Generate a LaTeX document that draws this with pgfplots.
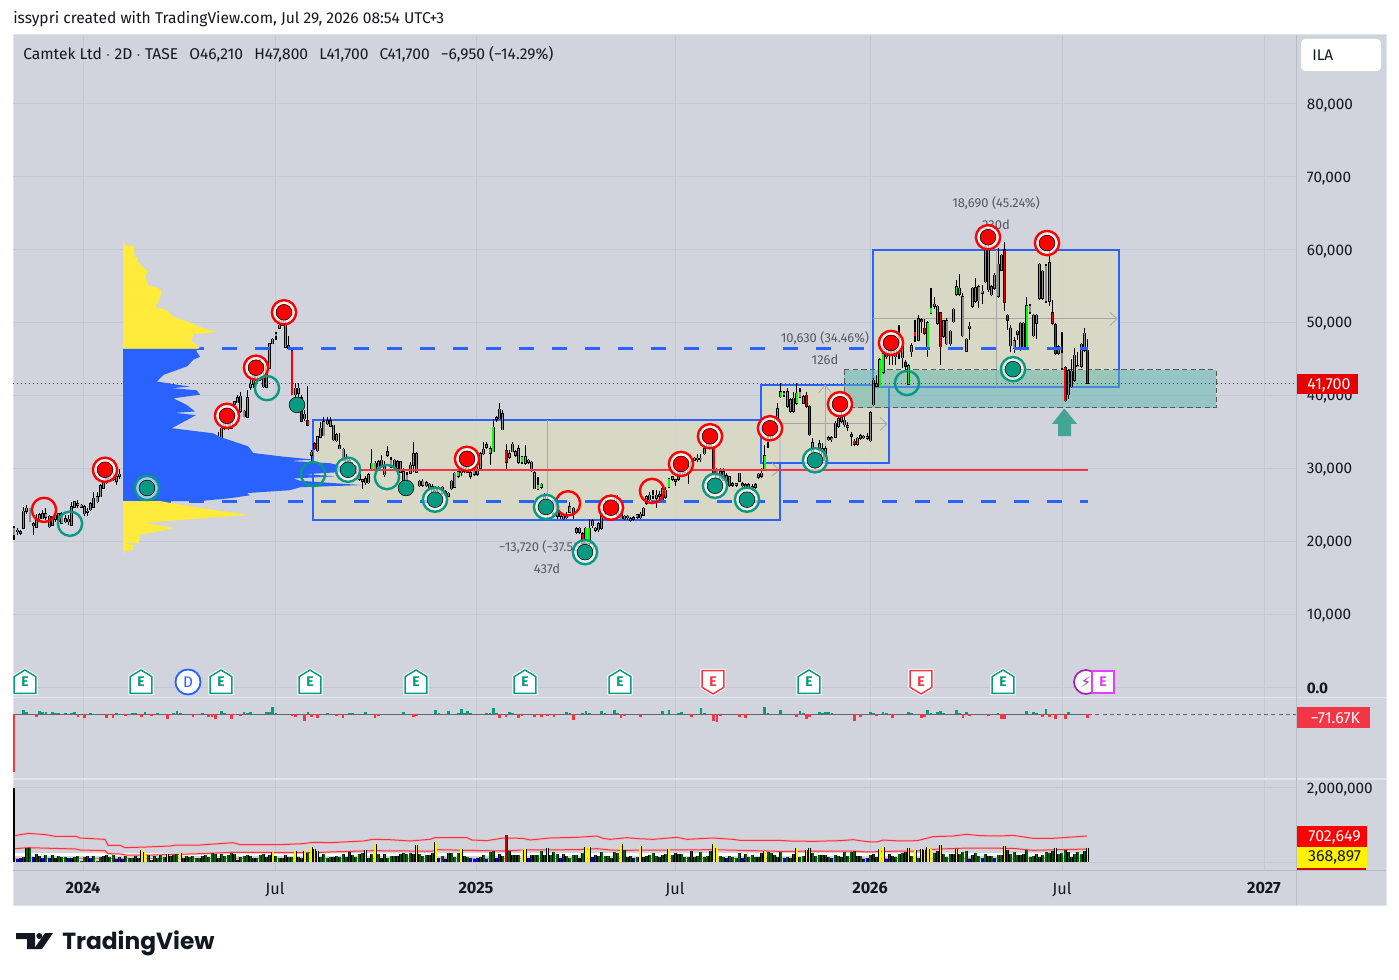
\documentclass[border=0pt]{standalone}
\usepackage{fontspec}
\usepackage{pgfplots}
\usepackage{pgfplotstable}
\pgfplotsset{compat=1.18}
\setmainfont{Fira Sans}
\newfontfamily\logofont{Poppins}
\newfontfamily\dejavu{DejaVu Sans}
\definecolor{panebg}{RGB}{209,212,220}
\definecolor{gridc}{RGB}{197,201,210}
\definecolor{sepc}{RGB}{226,228,235}
\definecolor{scalec}{RGB}{184,188,198}
\definecolor{tvblue}{RGB}{41,98,255}
\definecolor{tvred}{RGB}{242,54,69}
\definecolor{tvgreen}{RGB}{8,153,129}
\definecolor{txt}{RGB}{19,23,34}
\definecolor{anno}{RGB}{85,88,98}
\definecolor{beige}{RGB}{217,217,195}
\definecolor{zonec}{RGB}{95,182,174}
\definecolor{profy}{RGB}{255,235,59}
\definecolor{magE}{RGB}{224,64,251}
\definecolor{purp}{RGB}{156,39,176}
\definecolor{arrowc}{RGB}{67,165,150}
\pgfdeclareplotmark{tvhouse}{\pgfsetcornersarced{\pgfqpoint{1.2pt}{1.2pt}}%
 \pgfpathmoveto{\pgfqpoint{-8.2pt}{-8.6pt}}\pgfpathlineto{\pgfqpoint{8.2pt}{-8.6pt}}\pgfpathlineto{\pgfqpoint{8.2pt}{4pt}}\pgfpathlineto{\pgfqpoint{0pt}{9pt}}\pgfpathlineto{\pgfqpoint{-8.2pt}{4pt}}\pgfpathclose\pgfusepathqfillstroke}
\pgfdeclareplotmark{tvshield}{\pgfsetcornersarced{\pgfqpoint{1.2pt}{1.2pt}}%
 \pgfpathmoveto{\pgfqpoint{-8.2pt}{8.6pt}}\pgfpathlineto{\pgfqpoint{8.2pt}{8.6pt}}\pgfpathlineto{\pgfqpoint{8.2pt}{-4pt}}\pgfpathlineto{\pgfqpoint{0pt}{-9pt}}\pgfpathlineto{\pgfqpoint{-8.2pt}{-4pt}}\pgfpathclose\pgfusepathqfillstroke}
\pgfdeclareplotmark{tvbox}{\pgfsetcornersarced{\pgfqpoint{1.5pt}{1.5pt}}%
 \pgfpathmoveto{\pgfqpoint{-8.2pt}{-8.2pt}}\pgfpathlineto{\pgfqpoint{8.2pt}{-8.2pt}}\pgfpathlineto{\pgfqpoint{8.2pt}{8.2pt}}\pgfpathlineto{\pgfqpoint{-8.2pt}{8.2pt}}\pgfpathclose\pgfusepathqfillstroke}
% i top-of-body bottom-of-body high low kind(0 grey,1 green,2 red), prices in thousands
\pgfplotstableread[row sep=crcr]{
i t b h l k\\
0 21.8 20.9 22.1 20.2 0\\ 1 21.5 21.3 21.8 20.9 0\\ 2 21.3 21.1 21.6 20.9 0\\ 3 24.1 21.8 24.7 21.8 0\\ 4 24.5 24.1 25.0 23.8 0\\
5 24.5 22.7 24.5 22.6 0\\ 6 22.4 22.1 22.7 20.9 0\\ 7 22.9 21.9 23.8 21.9 0\\ 8 23.6 23.1 23.9 22.9 0\\ 9 23.8 23.1 24.3 23.0 0\\
10 23.8 23.3 24.5 22.9 0\\ 11 23.4 22.0 23.6 21.8 0\\ 12 23.4 22.2 23.4 22.1 0\\ 13 23.5 23.0 23.8 22.7 0\\ 14 23.8 22.7 23.9 22.5 0\\
15 23.8 22.5 24.0 22.3 0\\ 16 23.1 22.7 23.6 22.5 0\\ 17 23.0 22.7 23.6 22.2 0\\ 18 24.7 22.2 25.4 22.1 0\\ 19 25.4 24.7 25.5 24.5 0\\
20 25.1 24.9 25.7 24.6 0\\ 21 24.9 24.7 25.1 24.5 0\\ 22 24.7 23.8 25.0 23.4 0\\ 23 24.1 24.0 24.5 23.4 0\\ 24 25.1 24.3 25.4 24.2 0\\
25 25.9 24.7 26.8 24.6 0\\ 26 26.1 25.4 26.8 25.3 0\\ 27 27.6 26.1 27.9 26.1 0\\ 28 28.0 27.3 28.3 27.2 0\\ 29 28.6 28.0 29.0 27.8 0\\
30 28.8 28.4 29.2 28.2 0\\ 31 28.9 28.5 29.3 28.2 0\\ 32 28.8 28.2 29.0 27.7 0\\ 33 29.2 28.9 29.9 28.6 0\\
64 34.2 33.4 35.0 33.3 1\\ 65 35.5 33.4 36.0 33.3 0\\ 66 36.2 35.5 37.0 35.2 0\\ 67 36.0 35.5 37.0 35.2 1\\ 68 36.5 35.5 38.0 35.4 0\\
69 39.1 38.8 39.3 38.6 0\\ 70 39.7 39.0 40.0 38.9 0\\ 71 39.9 37.8 40.5 37.6 0\\ 72 37.8 37.1 38.0 37.0 0\\ 73 39.7 37.0 40.8 36.9 0\\
74 41.5 41.1 42.6 40.7 0\\ 75 43.0 41.5 44.0 41.0 0\\ 76 43.5 42.0 44.5 41.5 0\\ 77 44.0 42.5 45.0 42.0 0\\ 78 42.6 41.2 44.5 41.0 0\\
79 44.0 41.1 44.4 41.0 0\\ 80 47.1 43.7 47.2 43.6 1\\ 81 47.7 47.1 47.9 47.0 0\\ 82 48.4 48.2 48.7 47.6 0\\ 83 49.6 49.2 50.3 49.1 0\\
84 50.3 49.6 51.5 49.5 0\\ 85 49.9 46.6 50.5 46.5 0\\ 86 46.8 46.5 48.1 46.5 0\\ 87 46.1 40.1 46.3 40.0 2\\ 88 41.0 40.1 41.7 39.8 0\\
89 41.0 40.3 41.7 39.8 0\\ 90 39.7 36.5 40.0 36.4 2\\ 91 37.4 36.8 38.0 36.5 0\\ 92 36.5 35.9 41.3 35.8 2\\ 93 32.2 31.8 32.5 30.5 0\\
94 33.4 32.7 33.6 32.5 2\\ 95 34.3 32.4 34.5 32.2 0\\ 96 35.5 34.3 36.4 34.2 0\\ 97 36.4 34.5 37.0 34.4 0\\ 98 36.5 36.1 37.0 35.9 0\\
99 36.5 35.8 37.0 35.6 0\\ 100 35.9 33.9 36.0 33.8 0\\ 101 34.6 33.8 34.8 33.6 0\\ 102 33.1 32.7 34.8 32.6 0\\ 103 32.6 31.1 32.8 31.0 0\\
104 31.5 30.5 32.0 30.3 0\\ 105 31.0 30.3 31.3 30.0 0\\ 106 30.4 29.8 30.8 29.5 0\\ 107 30.2 29.3 30.5 29.2 0\\ 108 29.2 28.5 29.4 28.3 0\\
109 28.4 28.2 28.6 27.2 0\\ 110 28.6 28.0 29.0 27.7 0\\ 111 29.1 28.0 29.3 27.9 0\\ 112 30.7 29.8 32.6 29.6 1\\ 113 30.7 29.8 31.0 29.6 0\\
114 30.9 30.2 31.2 30.0 0\\ 115 31.1 30.3 31.8 30.1 0\\ 116 30.2 29.1 31.0 28.8 0\\ 117 32.3 31.8 33.0 31.6 0\\ 118 31.1 30.2 31.5 30.0 0\\
119 31.1 30.2 31.3 30.0 0\\ 120 30.9 30.0 31.2 29.8 0\\ 121 30.9 29.5 31.0 29.3 0\\ 122 29.5 28.4 30.0 28.2 0\\ 123 29.1 28.4 29.5 28.2 0\\
124 30.4 29.3 30.8 29.2 0\\ 125 32.0 30.4 33.6 29.5 1\\ 126 32.0 29.5 32.3 29.4 0\\ 127 28.2 27.6 28.4 27.4 0\\ 128 28.2 27.7 28.5 27.5 0\\
129 28.0 27.6 28.3 27.4 0\\ 130 27.8 27.2 28.0 27.0 0\\ 131 27.5 26.8 27.8 26.6 0\\ 132 27.4 26.9 27.6 26.5 0\\ 133 27.4 26.1 27.6 26.0 0\\
134 27.4 26.6 27.6 26.4 0\\ 135 26.8 26.3 27.0 26.2 0\\ 136 26.6 26.2 26.8 26.0 0\\ 137 28.2 27.2 28.4 27.0 0\\ 138 29.3 27.4 29.5 27.3 0\\
139 29.5 28.9 29.7 28.7 1\\ 140 30.0 29.4 30.6 29.0 0\\ 141 30.2 29.6 30.8 29.3 0\\ 142 30.2 29.5 30.6 29.3 0\\ 143 29.4 28.9 29.8 28.6 0\\
144 29.8 29.2 30.0 28.9 0\\ 145 29.6 29.2 30.2 29.0 0\\ 146 32.0 30.0 32.2 29.8 0\\ 147 32.6 32.0 33.6 31.8 0\\ 148 33.2 32.9 33.6 32.6 0\\
149 32.7 32.1 33.0 30.4 0\\ 150 35.6 32.3 36.8 32.2 1\\ 151 36.9 36.7 37.2 36.4 0\\ 152 38.1 36.8 38.9 36.7 0\\ 153 37.5 35.3 38.0 35.2 0\\
154 32.4 30.8 33.3 29.8 2\\ 155 32.0 31.5 32.5 31.3 0\\ 156 33.3 32.3 33.6 32.2 0\\ 157 32.3 31.8 32.5 31.5 0\\ 158 32.7 30.8 33.2 30.6 0\\
159 31.5 30.8 31.7 30.6 1\\ 160 31.6 30.7 33.2 30.5 0\\ 161 31.1 30.8 31.3 30.6 0\\ 162 30.8 29.7 31.0 29.5 0\\ 163 29.4 27.2 29.6 27.1 0\\
164 27.7 27.2 28.8 27.0 0\\ 165 27.8 27.4 28.0 27.2 1\\ 166 26.1 25.4 26.6 25.2 0\\ 167 25.5 24.8 26.0 24.5 0\\ 168 25.0 24.4 25.4 24.2 0\\
169 23.8 23.4 24.0 23.2 0\\ 170 24.0 23.4 24.2 23.1 0\\ 171 23.8 23.4 24.0 23.1 0\\ 172 23.4 23.1 23.6 22.9 0\\ 173 23.7 23.2 24.0 23.0 0\\
174 24.7 24.0 25.4 23.9 0\\ 175 24.5 23.7 24.7 23.1 0\\ 176 21.7 21.2 22.0 21.0 0\\ 177 21.8 21.2 22.0 21.0 0\\ 178 21.0 19.7 21.2 19.5 2\\
179 21.8 19.7 22.0 19.0 1\\ 180 21.8 19.7 23.0 19.5 1\\ 181 22.8 22.1 23.0 21.8 0\\ 182 21.8 21.5 22.0 21.2 0\\ 183 22.4 21.6 22.6 21.3 0\\
184 23.8 21.8 24.0 21.6 0\\ 185 24.8 23.8 25.6 23.6 0\\ 186 25.0 24.0 25.5 23.8 0\\ 187 25.0 24.2 25.4 24.0 0\\ 188 25.2 24.3 26.0 24.1 0\\
189 25.9 23.6 26.4 23.4 0\\ 190 24.0 23.1 24.2 23.0 0\\ 191 23.4 23.1 23.6 22.9 0\\ 192 23.4 23.2 23.6 22.9 0\\ 193 23.1 22.9 23.3 22.7 0\\
194 23.2 23.0 23.4 22.8 0\\ 195 23.6 23.3 23.8 23.1 0\\ 196 23.7 23.2 24.0 23.0 0\\ 197 24.5 23.6 24.7 23.5 0\\ 198 26.1 25.2 26.4 25.0 0\\
199 26.3 25.7 26.8 25.5 0\\ 200 26.4 26.2 27.0 25.8 0\\ 201 26.3 25.9 27.0 24.5 0\\ 202 26.4 26.2 26.9 25.8 0\\ 203 27.2 25.6 27.4 25.4 0\\
204 27.0 26.0 27.4 25.8 0\\ 205 28.5 27.4 28.7 27.3 1\\ 206 28.8 28.5 29.0 28.3 0\\ 207 28.4 28.2 28.6 27.6 0\\ 208 29.5 28.5 30.0 28.3 0\\
209 30.5 29.2 31.0 29.0 0\\ 210 30.6 29.5 31.0 29.2 0\\ 211 30.3 29.3 31.0 27.9 0\\ 212 30.9 29.8 31.3 29.6 0\\ 213 31.4 31.1 31.6 31.0 0\\
214 31.4 31.2 32.0 30.8 0\\ 215 31.4 31.2 32.0 30.8 0\\ 216 32.7 32.0 33.2 31.8 0\\ 217 33.5 32.8 33.7 32.6 0\\ 218 34.0 33.0 34.5 32.8 0\\
219 32.7 29.3 33.0 29.2 2\\ 220 29.8 28.5 30.0 28.2 0\\ 221 29.5 28.6 30.0 28.3 0\\ 222 29.5 28.4 30.0 28.2 0\\ 223 29.0 28.2 29.4 27.9 0\\
224 28.8 27.7 29.0 27.5 0\\ 225 27.9 27.7 28.1 27.5 0\\ 226 27.9 27.7 28.0 27.5 0\\ 227 29.3 28.2 29.4 28.1 0\\ 228 27.9 27.6 28.1 27.4 0\\
229 27.7 27.4 28.0 27.2 0\\ 230 27.7 27.4 28.0 27.2 0\\ 231 27.5 27.2 27.8 26.9 0\\ 232 27.7 27.4 28.0 27.1 0\\ 233 29.2 28.8 29.4 28.6 0\\
234 29.3 28.9 30.0 28.7 0\\ 235 31.7 29.8 33.2 29.6 1\\ 236 34.1 33.6 35.0 32.8 0\\ 237 35.0 34.0 35.5 33.8 0\\ 238 36.2 35.0 37.0 34.8 0\\
239 38.2 36.6 39.0 36.4 0\\ 240 40.5 39.8 41.7 39.7 1\\ 241 40.3 40.0 40.6 39.8 0\\ 242 40.5 38.5 41.0 38.3 0\\ 243 39.4 37.8 39.6 37.6 0\\
244 39.6 37.8 40.4 37.6 0\\ 245 40.3 38.9 41.7 38.7 1\\ 246 40.5 39.8 41.0 39.6 0\\ 247 39.8 38.9 40.0 38.8 0\\ 248 40.0 38.5 40.4 38.3 2\\
249 38.5 34.6 38.7 34.5 2\\ 250 33.5 31.6 34.1 31.4 0\\ 251 31.5 30.5 32.0 29.9 0\\ 252 33.4 32.5 33.9 31.0 0\\ 253 32.7 31.1 33.5 30.8 0\\
254 32.7 31.1 33.0 30.9 0\\ 255 34.2 33.9 34.4 33.7 0\\ 256 34.2 33.9 34.5 33.6 0\\ 257 36.2 34.3 36.5 34.1 0\\ 258 36.8 35.8 37.3 35.5 0\\
259 37.3 36.5 38.0 36.2 0\\ 260 36.6 36.0 37.3 35.7 0\\ 261 35.8 35.6 36.3 35.1 0\\ 262 34.6 34.4 35.0 33.0 0\\ 263 33.7 33.3 34.0 33.1 2\\
264 34.1 33.3 34.3 33.1 0\\ 265 34.5 34.1 34.7 33.9 0\\ 266 34.4 34.2 34.6 34.0 0\\ 267 34.3 34.1 34.9 33.9 0\\ 268 37.6 33.8 37.8 33.6 0\\
269 42.1 38.7 42.4 38.5 0\\ 270 41.6 41.3 42.8 41.1 0\\ 271 44.9 41.2 45.1 41.1 1\\ 272 45.7 43.2 46.0 43.0 1\\ 273 45.8 45.3 46.5 45.0 0\\
274 46.6 45.5 47.3 44.2 0\\ 275 46.5 45.5 47.0 44.2 0\\ 276 46.4 45.3 46.8 44.2 0\\ 277 47.0 46.0 49.7 45.0 0\\ 278 46.7 45.2 47.0 43.7 0\\
279 44.5 44.0 44.8 43.2 2\\ 280 44.1 41.5 44.3 41.4 1\\ 281 46.8 46.0 47.2 45.3 0\\ 282 48.7 48.2 50.3 47.3 2\\ 283 50.5 47.6 51.0 47.4 0\\
284 50.4 50.1 50.6 48.5 2\\ 285 49.2 48.5 50.5 48.3 2\\ 286 50.0 46.6 50.2 45.3 1\\ 287 52.0 51.3 54.7 51.1 1\\ 288 52.5 52.2 53.5 51.8 0\\
289 52.2 49.9 52.4 49.7 0\\ 290 51.3 46.7 51.5 44.2 2\\ 291 50.2 48.1 50.4 47.9 0\\ 292 50.2 47.1 50.6 46.9 0\\ 293 48.8 47.1 49.0 46.8 0\\
294 51.8 50.1 52.0 49.9 0\\ 295 54.9 53.9 55.8 53.7 1\\ 296 54.7 53.9 56.7 53.7 0\\ 297 53.5 48.2 54.0 48.0 0\\ 298 47.7 46.1 47.9 46.0 0\\
299 49.5 49.2 50.1 47.6 0\\ 300 54.7 52.2 54.9 52.0 0\\ 301 54.8 52.9 56.1 52.7 0\\ 302 54.9 53.0 55.2 52.0 0\\ 303 54.3 54.0 55.1 52.6 0\\
304 60.4 55.6 61.5 55.4 0\\ 305 59.9 54.5 61.0 54.2 0\\ 306 54.9 53.8 55.2 53.6 0\\ 307 56.5 54.7 56.8 54.5 0\\ 308 58.0 53.6 60.2 53.4 0\\
309 59.2 57.2 59.4 57.0 0\\ 310 60.0 52.8 61.0 51.6 2\\ 311 51.0 50.3 51.2 49.0 2\\ 312 49.2 46.8 49.7 45.9 0\\ 313 47.5 46.5 48.0 45.8 0\\
314 48.8 48.4 49.0 47.6 0\\ 315 49.9 46.7 50.1 46.1 0\\ 316 49.9 46.5 50.1 46.3 0\\ 317 52.3 46.5 53.5 46.3 1\\ 318 52.3 51.4 52.5 51.2 0\\
319 51.0 48.2 51.2 48.0 0\\ 320 51.0 49.9 51.2 47.7 0\\ 321 58.0 53.3 58.2 53.1 0\\ 322 57.0 53.3 57.2 53.1 0\\ 323 57.8 52.9 58.0 52.7 0\\
324 58.2 52.9 60.0 52.2 0\\ 325 51.3 49.9 53.1 49.7 2\\ 326 49.7 45.8 49.9 45.6 2\\ 327 46.7 45.8 46.9 45.6 0\\ 328 45.8 43.7 48.7 43.5 0\\
329 43.8 39.3 44.0 39.1 2\\ 330 43.4 40.1 43.6 39.5 0\\ 331 43.3 41.2 45.0 41.0 0\\ 332 45.5 42.1 46.5 41.9 0\\ 333 44.1 44.0 46.0 43.9 0\\
334 47.0 44.0 47.2 43.8 0\\ 335 48.5 46.2 49.2 46.0 0\\ 336 46.2 41.7 47.8 41.7 2\\
}\candles
% one path per layer built from the table, segments split by nan
\gdef\wickpts{}\gdef\bodypts{}\gdef\greypts{}\gdef\greenpts{}\gdef\redpts{}
\pgfplotstablegetrowsof{\candles}\pgfmathtruncatemacro\lastrow{\pgfplotsretval-1}
\pgfplotsforeachungrouped \r in {0,...,\lastrow}{%
 \pgfplotstablegetelem{\r}{i}\of\candles\let\ci\pgfplotsretval
 \pgfplotstablegetelem{\r}{t}\of\candles\let\ct\pgfplotsretval
 \pgfplotstablegetelem{\r}{b}\of\candles\let\cb\pgfplotsretval
 \pgfplotstablegetelem{\r}{h}\of\candles\let\ch\pgfplotsretval
 \pgfplotstablegetelem{\r}{l}\of\candles\let\cl\pgfplotsretval
 \pgfplotstablegetelem{\r}{k}\of\candles\let\ck\pgfplotsretval
 \pgfmathsetmacro\cx{14+3.195*\ci}%
 \pgfmathsetmacro\cu{\ct+0.08}\pgfmathsetmacro\cd{\cb-0.08}%
 \xdef\wickpts{\wickpts(\cx,\cl)(\cx,\ch)(\cx,nan)}%
 \xdef\bodypts{\bodypts(\cx,\cd)(\cx,\cu)(\cx,nan)}%
 \ifnum\ck=0 \xdef\greypts{\greypts(\cx,\cb)(\cx,\ct)(\cx,nan)}\fi
 \ifnum\ck=1 \xdef\greenpts{\greenpts(\cx,\cb)(\cx,\ct)(\cx,nan)}\fi
 \ifnum\ck=2 \xdef\redpts{\redpts(\cx,\cb)(\cx,\ct)(\cx,nan)}\fi
}
% volume in thousands; class 0 green,1 yellow,2 blue,3 red
\pgfplotstableread[row sep=crcr]{
i v c\\
0 2000 0\\ 1 81 2\\ 2 108 2\\ 3 144 0\\ 4 378 0\\ 5 378 0\\ 6 126 2\\ 7 216 0\\ 8 153 0\\ 9 108 2\\ 10 189 0\\ 11 108 2\\ 12 189 0\\ 13 99 2\\ 14 162 0\\ 15 135 0\\ 16 135 0\\ 17 99 2\\ 18 117 2\\ 19 144 0\\ 20 162 0\\ 21 27 0\\ 22 135 0\\ 23 162 0\\ 24 117 2\\ 25 162 0\\ 26 27 0\\ 27 126 0\\ 28 171 0\\ 29 189 0\\ 30 135 0\\ 31 189 0\\ 32 81 2\\ 33 135 0\\ 34 81 2\\ 35 162 0\\ 36 117 0\\ 37 108 0\\ 38 162 0\\ 39 117 0\\ 40 324 1\\ 41 270 1\\ 42 189 0\\ 43 63 0\\ 44 162 0\\ 45 108 0\\ 46 189 0\\ 47 135 0\\ 48 216 1\\ 49 162 0\\ 50 189 0\\ 51 216 0\\ 52 243 1\\ 53 108 0\\ 54 162 0\\ 55 135 0\\ 56 162 0\\ 57 108 0\\ 58 108 0\\ 59 162 0\\ 60 189 0\\ 61 135 0\\ 62 243 0\\ 63 216 0\\ 64 108 0\\ 65 216 0\\ 66 162 0\\ 67 189 0\\ 68 243 0\\ 69 216 0\\ 70 63 2\\ 71 135 0\\ 72 162 0\\ 73 189 0\\ 74 162 0\\ 75 108 0\\ 76 108 0\\ 77 189 0\\ 78 216 0\\ 79 126 0\\ 80 189 0\\ 81 270 1\\ 82 162 0\\ 83 108 0\\ 84 108 0\\ 85 189 0\\ 86 135 0\\ 87 135 0\\ 88 297 1\\ 89 135 0\\ 90 108 0\\ 91 297 1\\ 92 243 0\\ 93 405 1\\ 94 351 1\\ 95 288 1\\ 96 135 0\\ 97 216 0\\ 98 108 0\\ 99 135 0\\ 100 135 0\\ 101 162 0\\ 102 135 0\\ 103 216 0\\ 104 135 0\\ 105 270 0\\ 106 189 0\\ 107 135 0\\ 108 216 0\\ 109 243 0\\ 110 324 1\\ 111 108 0\\ 112 216 0\\ 113 486 1\\ 114 216 0\\ 115 99 2\\ 116 216 0\\ 117 108 0\\ 118 162 0\\ 119 162 0\\ 120 162 0\\ 121 216 0\\ 122 243 0\\ 123 216 0\\ 124 243 0\\ 125 216 0\\ 126 459 1\\ 127 216 0\\ 128 162 0\\ 129 189 0\\ 130 189 0\\ 131 243 0\\ 132 540 1\\ 133 108 2\\ 134 162 0\\ 135 81 2\\ 136 243 0\\ 137 243 0\\ 138 135 0\\ 139 243 0\\ 140 351 1\\ 141 162 0\\ 142 135 0\\ 143 108 2\\ 144 81 2\\ 145 99 2\\ 146 135 0\\ 147 189 0\\ 148 81 2\\ 149 270 0\\ 150 297 0\\ 151 108 2\\ 152 216 0\\ 153 162 0\\ 154 720 3\\ 155 297 0\\ 156 189 0\\ 157 189 0\\ 158 189 0\\ 159 324 1\\ 160 351 1\\ 161 108 2\\ 162 189 0\\ 163 189 0\\ 164 189 0\\ 165 297 0\\ 166 189 0\\ 167 378 1\\ 168 189 0\\ 169 270 0\\ 170 216 0\\ 171 108 2\\ 172 216 0\\ 173 162 0\\ 174 99 0\\ 175 189 0\\ 176 189 0\\ 177 108 2\\ 178 243 0\\ 179 405 1\\ 180 405 1\\ 181 135 2\\ 182 189 0\\ 183 162 0\\ 184 270 0\\ 185 162 0\\ 186 162 0\\ 187 108 0\\ 188 270 0\\ 189 243 0\\ 190 486 1\\ 191 324 0\\ 192 135 0\\ 193 162 0\\ 194 108 2\\ 195 135 0\\ 196 432 1\\ 197 135 0\\ 198 162 0\\ 199 189 0\\ 200 243 0\\ 201 162 0\\ 202 135 0\\ 203 189 0\\ 204 216 0\\ 205 351 1\\ 206 189 0\\ 207 243 0\\ 208 216 0\\ 209 216 0\\ 210 135 0\\ 211 135 0\\ 212 297 0\\ 213 135 0\\ 214 162 0\\ 215 270 0\\ 216 135 0\\ 217 162 0\\ 218 297 0\\ 219 486 1\\ 220 378 1\\ 221 162 0\\ 222 135 0\\ 223 108 2\\ 224 162 0\\ 225 135 0\\ 226 108 0\\ 227 243 0\\ 228 108 2\\ 229 216 0\\ 230 135 0\\ 231 189 0\\ 232 135 0\\ 233 135 0\\ 234 243 0\\ 235 297 1\\ 236 270 0\\ 237 243 0\\ 238 189 0\\ 239 135 0\\ 240 270 0\\ 241 108 2\\ 242 135 0\\ 243 108 0\\ 244 216 0\\ 245 378 1\\ 246 135 0\\ 247 162 0\\ 248 324 1\\ 249 378 1\\ 250 243 0\\ 251 162 0\\ 252 189 0\\ 253 189 0\\ 254 189 0\\ 255 135 0\\ 256 108 2\\ 257 189 0\\ 258 162 0\\ 259 135 0\\ 260 270 0\\ 261 162 0\\ 262 270 0\\ 263 297 0\\ 264 162 0\\ 265 162 0\\ 266 81 2\\ 267 108 2\\ 268 189 0\\ 269 216 0\\ 270 135 0\\ 271 351 1\\ 272 405 1\\ 273 81 2\\ 274 216 0\\ 275 162 0\\ 276 135 0\\ 277 216 0\\ 278 243 0\\ 279 270 0\\ 280 378 1\\ 281 162 0\\ 282 324 1\\ 283 108 0\\ 284 351 1\\ 285 324 1\\ 286 405 1\\ 287 351 1\\ 288 243 0\\ 289 297 0\\ 290 459 1\\ 291 216 0\\ 292 135 0\\ 293 216 0\\ 294 216 0\\ 295 351 1\\ 296 216 0\\ 297 270 0\\ 298 297 0\\ 299 81 2\\ 300 189 0\\ 301 243 0\\ 302 162 0\\ 303 108 2\\ 304 216 0\\ 305 162 0\\ 306 162 0\\ 307 108 2\\ 308 189 0\\ 309 189 0\\ 310 432 1\\ 311 324 0\\ 312 216 0\\ 313 270 0\\ 314 189 0\\ 315 189 0\\ 316 216 0\\ 317 324 0\\ 318 135 0\\ 319 162 0\\ 320 216 0\\ 321 135 0\\ 322 189 0\\ 323 270 0\\ 324 243 0\\ 325 297 0\\ 326 378 1\\ 327 216 0\\ 328 243 0\\ 329 324 0\\ 330 270 0\\ 331 135 0\\ 332 216 0\\ 333 270 0\\ 334 216 0\\ 335 297 0\\ 336 369 1\\
}\volumes
\gdef\volall{}\gdef\volg{}\gdef\voly{}\gdef\volb{}\gdef\volr{}
\pgfplotstablegetrowsof{\volumes}\pgfmathtruncatemacro\lastrow{\pgfplotsretval-1}
\pgfplotsforeachungrouped \r in {1,...,\lastrow}{%
 \pgfplotstablegetelem{\r}{i}\of\volumes\let\ci\pgfplotsretval
 \pgfplotstablegetelem{\r}{v}\of\volumes\let\cv\pgfplotsretval
 \pgfplotstablegetelem{\r}{c}\of\volumes\let\cc\pgfplotsretval
 \pgfmathsetmacro\cx{14+3.195*\ci}%
 \xdef\volall{\volall(\cx,0)(\cx,\cv)(\cx,nan)}%
 \ifnum\cc=0 \xdef\volg{\volg(\cx,0)(\cx,\cv)(\cx,nan)}\fi
 \ifnum\cc=1 \xdef\voly{\voly(\cx,0)(\cx,\cv)(\cx,nan)}\fi
 \ifnum\cc=2 \xdef\volb{\volb(\cx,0)(\cx,\cv)(\cx,nan)}\fi
 \ifnum\cc=3 \xdef\volr{\volr(\cx,0)(\cx,\cv)(\cx,nan)}\fi
}
\pgfplotsset{
 tvpane/.style={scale only axis,width=962.25pt,xmin=13,xmax=1296,clip=true,
  axis line style={draw=none},tick style={draw=none},major tick length=0pt,
  grid=major,major grid style={gridc,line width=.75pt},
  xtick={83,275,476,675,870,1062,1264},xticklabels={},
  yticklabel pos=right,
  tick label style={font=\fontsize{11.5}{12}\selectfont,text=txt},
  yticklabel style={anchor=west,inner xsep=0pt,xshift=8pt,yshift=-1.1pt}},
}
\begin{document}
\begin{tikzpicture}[x=0.75pt,y=-0.75pt]
\useasboundingbox (0,0) rectangle (1399,980);
\fill[white] (0,0) rectangle (1399,980);
\fill[panebg] (13,35) rectangle (1386,905);
\draw[sepc,line width=.75pt] (13,35) rectangle (1386,905);
\node[anchor=west,inner sep=0pt,text=txt,font=\fontsize{11.7}{13}\selectfont] at (13,19.5) {issypri created with TradingView.com, Jul 29, 2026 08:54 UTC+3};
% grid and price scale
\begin{axis}[tvpane,at={(9.75pt,-522.75pt)},anchor=south west,height=496.5pt,
 ymin=-1.37,ymax=89.44,ytick={0,10,20,30,40,50,60,70,80},
 yticklabels={\textbf{0.0},{10,000},{20,000},{30,000},{40,000},{50,000},{60,000},{70,000},{80,000}}]
\end{axis}
\node[anchor=west,inner sep=0pt,text=txt,font=\fontsize{11.7}{13}\selectfont] at (23,54) {Camtek Ltd $\cdot$ 2D $\cdot$ TASE\hspace{8.4pt}O46,210\hspace{8.4pt}H47,800\hspace{8.4pt}L41,700\hspace{8.4pt}C41,700\hspace{8.4pt}−6,950 (−14.29\%)};
\begin{scope}[text=anno,font=\fontsize{9.7}{11}\selectfont]
\node at (996,203) {18,690 (45.24\%)};
\node at (996,225) {230d};
\node at (825,338) {10,630 (34.46\%)};
\node at (825,360) {126d};
\node at (547,547) {−13,720 (−37.56\%)};
\node at (547,569) {437d};
\end{scope}
% price pane
\begin{axis}[scale only axis,width=962.25pt,height=496.5pt,at={(9.75pt,-522.75pt)},anchor=south west,
 xmin=13,xmax=1296,ymin=-1.37,ymax=89.44,axis lines=none,clip=true]
% rectangles
\addplot[draw=tvblue,line width=1.5pt,fill=beige,fill opacity=.85] coordinates {(313,36.6)(780,36.6)(780,22.9)(313,22.9)} -- cycle;
\addplot[draw=tvblue,line width=1.5pt,fill=beige,fill opacity=.85] coordinates {(761,41.4)(889,41.4)(889,30.7)(761,30.7)} -- cycle;
\addplot[draw=tvblue,line width=1.5pt,fill=beige,fill opacity=.85] coordinates {(873,59.9)(1119,59.9)(1119,41.2)(873,41.2)} -- cycle;
% thin measure lines
\addplot[gray!70,line width=.6pt] coordinates {(547,36.6)(547,22.9)};
\addplot[gray!70,line width=.6pt] coordinates {(825,41.4)(825,30.7)};
\addplot[gray!70,line width=.6pt] coordinates {(761,36.1)(887,36.1)};
\addplot[gray!70,line width=.6pt] coordinates {(880,37.0)(887,36.1)(880,35.2)};
\addplot[gray!70,line width=.6pt] coordinates {(819,40.4)(825,41.4)(831,40.4)};
\addplot[gray!70,line width=.6pt] coordinates {(996,59.9)(996,41.2)};
\addplot[gray!70,line width=.6pt] coordinates {(873,50.5)(1117,50.5)};
\addplot[gray!70,line width=.6pt] coordinates {(1110,51.4)(1117,50.5)(1110,49.6)};
\addplot[gray!70,line width=.6pt] coordinates {(772,30.7)(779,29.8)(772,28.9)};
% support zone
\addplot[draw=black!65,dash pattern=on 4pt off 2.5pt,line width=.75pt,fill=zonec,fill opacity=.5] coordinates {(844,43.5)(1216,43.5)(1216,38.3)(844,38.3)} -- cycle;
% candles: wicks, body outlines, body interiors
\edef\candleplots{%
\noexpand\addplot[black,line width=.8pt,unbounded coords=jump] coordinates {\wickpts};
\noexpand\addplot[black,line width=2.2pt,unbounded coords=jump] coordinates {\bodypts};
\noexpand\addplot[black!45,line width=.9pt,unbounded coords=jump] coordinates {\greypts};
\noexpand\addplot[green,line width=1.25pt,unbounded coords=jump] coordinates {\greenpts};
\noexpand\addplot[red,line width=1.25pt,unbounded coords=jump] coordinates {\redpts};
}
\candleplots
% horizontal levels
\addplot[tvred,line width=1.5pt] coordinates {(123,29.77)(1088,29.77)};
\addplot[tvblue,line width=2.25pt,dash pattern=on 11.25pt off 13.5pt] coordinates {(123,46.37)(1088,46.37)};
\addplot[tvblue,line width=2.25pt,dash pattern=on 11.25pt off 13.5pt] coordinates {(123,25.51)(1088,25.51)};
\addplot[red!85!black,line width=.75pt,dash pattern=on .75pt off 2.25pt] coordinates {(13,41.7)(1296,41.7)};
% volume profile
\addplot[fill=profy,draw=none] coordinates {(123,61.5)(125,60.6)(134.3,60.5)(134.3,59.0)(137.3,59)(137.3,58.5)(141.7,57.7)(148.3,57)(145,56.3)(148.3,55.1)(158.3,54.7)(161.7,54.3)(159.3,53.1)(155,52.1)(166.7,51.7)(173.3,50.8)(191.7,49.9)(203.3,49.2)(216.7,48.7)(193.3,48.4)(191.7,47.4)(200,46.5)(196.7,46.37)(123,46.37)} -- cycle;
\addplot[fill=tvblue,draw=none] coordinates {(123,46.37)(196.7,46.37)(196.7,46)(200,45.3)(193.3,44.9)(187.3,44)(173.3,43.3)(163.3,42.8)(156.7,41.9)(166.7,41.7)(190,41.2)(172,41)(196.7,40.7)(200,40.1)(173.3,39.6)(186.7,38.7)(195,37.8)(175,37.6)(196,37.3)(186.7,36.6)(171.7,35.5)(213.3,34.8)(220,34.3)(233.3,33.7)(248.3,33)(253.3,32.1)(283.3,31.6)(313,31.2)(290,31.0)(330,30.7)(345,30.2)(343,29.5)(305,29.2)(335,28.9)(293.3,28.6)(300,28.3)(361.7,27.7)(300,27.4)(290,27.0)(246.7,26.6)(250,26.3)(230,25.9)(200,25.51)(123,25.51)} -- cycle;
\addplot[fill=profy,draw=none] coordinates {(123,25.51)(160,25.51)(180,25)(213,24.3)(250,23.6)(216.7,23.3)(180,22.9)(160,22.7)(145,22.5)(175,21.8)(156.7,21.3)(140,20.9)(139,19.8)(123.3,19.7)(133.3,19.5)(133.3,18.8)(125,18.7)(123.3,18.3)(123,18.3)} -- cycle;
% signal circles
\addplot[only marks,mark=*,mark size=9.1pt,mark options={draw=red,line width=1.8pt,fill=white,fill opacity=.7,draw opacity=1}] coordinates {(284,51.4)(256,43.8)(227,37.2)(105,29.8)(467,31.3)(611,24.6)(681,30.6)(710,34.4)(770,35.5)(840,38.8)(891,47.2)(988,61.7)(1047,60.9)};
\addplot[only marks,mark=*,mark size=5.9pt,mark options={draw=none,fill=red}] coordinates {(284,51.4)(256,43.8)(227,37.2)(105,29.8)(467,31.3)(611,24.6)(681,30.6)(710,34.4)(770,35.5)(840,38.8)(891,47.2)(988,61.7)(1047,60.9)};
\addplot[only marks,mark=o,mark size=9.1pt,mark options={draw=red,line width=1.8pt}] coordinates {(44,24.3)(568,25.2)(652,26.9)};
\addplot[only marks,mark=*,mark size=9.1pt,mark options={draw=tvgreen,line width=1.8pt,fill=white,fill opacity=.6,draw opacity=1}] coordinates {(147,27.3)(348,29.8)(435,25.7)(546,24.7)(585,18.5)(715,27.6)(747,25.7)(815,31.1)(1013,43.6)(10,19.8)};
\addplot[only marks,mark=*,mark size=5.9pt,mark options={draw=none,fill=tvgreen}] coordinates {(147,27.3)(348,29.8)(435,25.7)(546,24.7)(585,18.5)(715,27.6)(747,25.7)(815,31.1)(1013,43.6)(10,19.8)(297,38.7)(406,27.3)};
\addplot[only marks,mark=o,mark size=9.1pt,mark options={draw=tvgreen,line width=1.8pt}] coordinates {(70,22.4)(267,41.0)(313,29.2)(387,28.8)(907,41.7)};
% entry arrow
\addplot[fill=arrowc,draw=none] coordinates {(1064.3,38.2)(1077,36.1)(1071,36.1)(1071,34.4)(1058,34.4)(1058,36.1)(1052,36.1)} -- cycle;
% event badges
\addplot[only marks,mark=tvhouse,mark options={draw=white,fill=white,line width=2.6pt}] coordinates {(25,0.69)(141,0.69)(221,0.69)(310,0.69)(416,0.69)(525,0.69)(620,0.69)(809,0.69)(1003,0.69)};
\addplot[only marks,mark=tvhouse,mark options={draw=tvgreen,fill=white,line width=1.1pt},nodes near coords={E},every node near coord/.append style={anchor=center,text=tvgreen,font=\bfseries\fontsize{10.5}{12}\selectfont,inner sep=0pt}] coordinates {(25,0.69)(141,0.69)(221,0.69)(310,0.69)(416,0.69)(525,0.69)(620,0.69)(809,0.69)(1003,0.69)};
\addplot[only marks,mark=tvshield,mark options={draw=white,fill=white,line width=2.6pt}] coordinates {(713,0.69)(921,0.69)};
\addplot[only marks,mark=tvshield,mark options={draw=tvred,fill=white,line width=1.1pt},nodes near coords={E},every node near coord/.append style={anchor=center,text=tvred,font=\bfseries\fontsize{10.5}{12}\selectfont,inner sep=0pt}] coordinates {(713,0.69)(921,0.69)};
\addplot[only marks,mark=*,mark size=9.4pt,mark options={draw=tvblue,fill=white,line width=1.4pt},nodes near coords={D},every node near coord/.append style={anchor=center,text=tvblue,font=\fontsize{11.5}{12}\selectfont,inner sep=0pt}] coordinates {(188,0.69)};
\addplot[only marks,mark=*,mark size=9pt,mark options={draw=purp,fill=white,line width=1.3pt},nodes near coords={\dejavu ⚡},every node near coord/.append style={anchor=center,text=purp,font=\fontsize{11}{12}\selectfont,inner sep=0pt}] coordinates {(1086,0.69)};
\addplot[only marks,mark=tvbox,mark options={draw=magE,fill=white,line width=1.1pt},nodes near coords={E},every node near coord/.append style={anchor=center,text=magE,font=\bfseries\fontsize{10.5}{12}\selectfont,inner sep=0pt}] coordinates {(1103,0.69)};
\end{axis}
% oscillator pane
\begin{axis}[tvpane,at={(9.75pt,-584.25pt)},anchor=south west,height=60.75pt,ymin=-1404,ymax=353.7,ytick=\empty]
\addplot[gray!80!black,line width=.75pt] coordinates {(13,0)(1088,0)};
\addplot[gray!80!black,line width=.75pt,dash pattern=on 3pt off 2.5pt] coordinates {(1088,0)(1296,0)};
\addplot[ycomb,mark=none,tvgreen,line width=2.1pt] table[row sep=crcr,x expr=14+3.195*\thisrow{i},y=v] {i v\\
3 90\\ 4 60\\ 8 72\\ 9 40\\ 10 50\\ 12 50\\ 13 20\\ 14 30\\ 16 22\\ 18 30\\ 19 43\\ 24 30\\ 25 15\\ 32 30\\ 33 15\\ 37 22\\ 38 30\\ 41 58\\ 45 30\\ 46 15\\ 50 30\\ 51 72\\ 52 30\\ 59 22\\ 65 72\\ 66 20\\ 72 50\\ 73 25\\ 74 50\\ 75 15\\ 79 40\\ 80 45\\ 81 158\\ 82 25\\ 92 50\\ 98 22\\ 105 30\\ 106 25\\ 110 50\\ 111 15\\ 122 50\\ 123 15\\ 132 94\\ 133 30\\ 136 72\\ 137 15\\ 139 30\\ 140 115\\ 141 30\\ 142 72\\ 143 20\\ 148 25\\ 149 30\\ 150 137\\ 151 30\\ 155 50\\ 156 25\\ 173 50\\ 174 30\\ 178 30\\ 179 72\\ 180 30\\ 184 72\\ 185 22\\ 188 94\\ 189 22\\ 203 72\\ 204 15\\ 205 94\\ 206 15\\ 208 30\\ 209 50\\ 215 137\\ 216 30\\ 235 158\\ 236 22\\ 240 94\\ 241 15\\ 246 72\\ 247 30\\ 252 50\\ 253 20\\ 254 50\\ 255 50\\ 256 22\\ 268 50\\ 269 30\\ 272 50\\ 273 30\\ 280 50\\ 281 22\\ 282 15\\ 286 94\\ 287 30\\ 289 50\\ 290 72\\ 291 22\\ 295 94\\ 296 30\\ 298 50\\ 308 30\\ 317 72\\ 319 50\\ 320 20\\ 323 115\\ 330 50\\ 331 15\\
};
\addplot[ycomb,mark=none,tvred,line width=2.1pt] table[row sep=crcr,x expr=14+3.195*\thisrow{i},y=v] {i v\\
0 -1248\\ 7 -50\\ 15 -22\\ 20 -50\\ 22 -72\\ 29 -72\\ 31 -72\\ 35 -30\\ 40 -58\\ 43 -30\\ 48 -94\\ 49 -15\\ 56 -50\\ 57 -10\\ 61 -50\\ 62 -50\\ 63 -94\\ 68 -94\\ 69 -20\\ 71 -30\\ 87 -30\\ 88 -50\\ 91 -144\\ 93 -50\\ 95 -72\\ 101 -30\\ 103 -72\\ 113 -72\\ 114 -30\\ 125 -50\\ 126 -30\\ 152 -72\\ 154 -50\\ 158 -72\\ 159 -30\\ 163 -50\\ 165 -50\\ 167 -30\\ 169 -50\\ 175 -115\\ 190 -72\\ 191 -30\\ 196 -60\\ 212 -50\\ 219 -140\\ 220 -165\\ 221 -30\\ 227 -50\\ 229 -72\\ 245 -50\\ 248 -94\\ 249 -50\\ 263 -137\\ 265 -50\\ 270 -30\\ 275 -72\\ 284 -72\\ 285 -50\\ 297 -72\\ 299 -30\\ 305 -30\\ 309 -94\\ 310 -94\\ 322 -50\\ 324 -50\\ 326 -94\\ 329 -94\\ 336 -71.67\\
};
\end{axis}
% volume pane
\begin{axis}[tvpane,at={(9.75pt,-652.5pt)},anchor=south west,height=67.5pt,ymin=-216,ymax=2214,
 ytick={0,2000},yticklabels={,{2,000,000}},
 xticklabels={\textbf{2024},Jul,\textbf{2025},Jul,\textbf{2026},Jul,\textbf{2027}},
 xticklabel style={yshift=-6pt,font=\fontsize{12.2}{13}\selectfont}]
\addplot[white,line width=2pt] coordinates {(13,198)(1088,198)};
\addplot[tvred!70,line width=.75pt] coordinates {(13,108)(1088,108)};
\addplot[tvred!40,line width=2pt,opacity=.6] coordinates {(15,711)(28,774)(46,738)(55,693)(76,693)(80,648)(105,612)(108,450)(120,450)(125,387)(146,405)(170,432)(176,459)(200,459)(233,522)(240,468)(280,468)(303,495)(313,531)(330,522)(350,549)(363,567)(373,612)(390,603)(410,567)(430,612)(435,657)(467,657)(472,594)(487,576)(503,648)(523,639)(530,594)(550,648)(577,666)(597,702)(603,639)(610,612)(627,657)(638,630)(653,612)(677,666)(687,612)(713,648)(733,612)(740,585)(780,585)(790,567)(813,558)(840,576)(853,603)(867,549)(877,540)(883,594)(900,567)(917,576)(933,684)(953,702)(967,747)(980,711)(1000,702)(1013,720)(1033,639)(1053,639)(1087,702)};
\addplot[tvred,line width=.75pt] coordinates {(15,711)(28,774)(46,738)(55,693)(76,693)(80,648)(105,612)(108,450)(120,450)(125,387)(146,405)(170,432)(176,459)(200,459)(233,522)(240,468)(280,468)(303,495)(313,531)(330,522)(350,549)(363,567)(373,612)(390,603)(410,567)(430,612)(435,657)(467,657)(472,594)(487,576)(503,648)(523,639)(530,594)(550,648)(577,666)(597,702)(603,639)(610,612)(627,657)(638,630)(653,612)(677,666)(687,612)(713,648)(733,612)(740,585)(780,585)(790,567)(813,558)(840,576)(853,603)(867,549)(877,540)(883,594)(900,567)(917,576)(933,684)(953,702)(967,747)(980,711)(1000,702)(1013,720)(1033,639)(1053,639)(1087,702)};
\addplot[tvred!40,line width=2pt,opacity=.6] coordinates {(15,360)(28,387)(76,351)(80,324)(105,306)(108,225)(120,216)(126,189)(153,189)(200,225)(233,261)(313,252)(330,270)(350,288)(373,306)(410,297)(433,297)(438,333)(467,315)(503,297)(523,324)(577,333)(597,360)(610,324)(620,315)(667,324)(713,333)(740,315)(780,288)(853,297)(867,270)(900,297)(917,297)(933,342)(967,378)(1013,369)(1033,315)(1087,351)};
\addplot[tvred,line width=.75pt] coordinates {(15,360)(28,387)(76,351)(80,324)(105,306)(108,225)(120,216)(126,189)(153,189)(200,225)(233,261)(313,252)(330,270)(350,288)(373,306)(410,297)(433,297)(438,333)(467,315)(503,297)(523,324)(577,333)(597,360)(610,324)(620,315)(667,324)(713,333)(740,315)(780,288)(853,297)(867,270)(900,297)(917,297)(933,342)(967,378)(1013,369)(1033,315)(1087,351)};
\addplot[black,line width=1pt] coordinates {(14,0)(14,2000)};
\edef\volplots{%
\noexpand\addplot[black,line width=2.25pt,unbounded coords=jump] coordinates {\volall};
\noexpand\addplot[green!40!black,line width=1.25pt,unbounded coords=jump] coordinates {\volg};
\noexpand\addplot[yellow,line width=1.25pt,unbounded coords=jump] coordinates {\voly};
\noexpand\addplot[blue,line width=1.25pt,unbounded coords=jump] coordinates {\volb};
\noexpand\addplot[red!80!black,line width=1.25pt,unbounded coords=jump] coordinates {\volr};
}
\volplots
\end{axis}
% pane separators and scale frame
\draw[sepc,line width=.9pt] (13,697.5) -- (1386,697.5) (13,779) -- (1386,779);
\draw[scalec,line width=.75pt] (13,870) -- (1386,870) (1296,35) -- (1296,905);
% right hand tags
\fill[white,rounded corners=3pt] (1301,39) rectangle (1381,71);
\node[anchor=west,inner sep=0pt,text=txt,font=\fontsize{11.5}{12}\selectfont] at (1312,55) {ILA};
\fill[red!90!black] (1297,374) rectangle (1358,394);
\node[text=white,inner sep=0pt,font=\fontsize{12}{13}\selectfont] at (1329,385) {41,700};
\fill[tvred] (1297,707) rectangle (1370,728);
\node[text=white,inner sep=0pt,font=\fontsize{12}{13}\selectfont] at (1335.5,718) {−71.67K};
\fill[red] (1297,826) rectangle (1367,847);
\node[text=white,inner sep=0pt,font=\fontsize{12}{13}\selectfont] at (1334.5,837) {702,649};
\fill[yellow] (1297,847) rectangle (1367,868);
\node[text=txt,inner sep=0pt,font=\fontsize{12}{13}\selectfont] at (1334.5,857.5) {368,897};
\draw[red!85!black,line width=1pt] (1297,869) -- (1366,869);
% TradingView wordmark
\fill[txt] (16,933) -- (35,933) -- (35,949) -- (27,949) -- (27,939) -- (16,939) -- cycle;
\fill[txt] (39.3,936) circle (3);
\fill[txt] (45,933) -- (53,933) -- (42,949) -- (34,949) -- cycle;
\node[anchor=base west,inner sep=0pt,text=txt,font=\logofont\bfseries\fontsize{17.5}{20}\selectfont] at (62,949) {TradingView};
\end{tikzpicture}
\end{document}
